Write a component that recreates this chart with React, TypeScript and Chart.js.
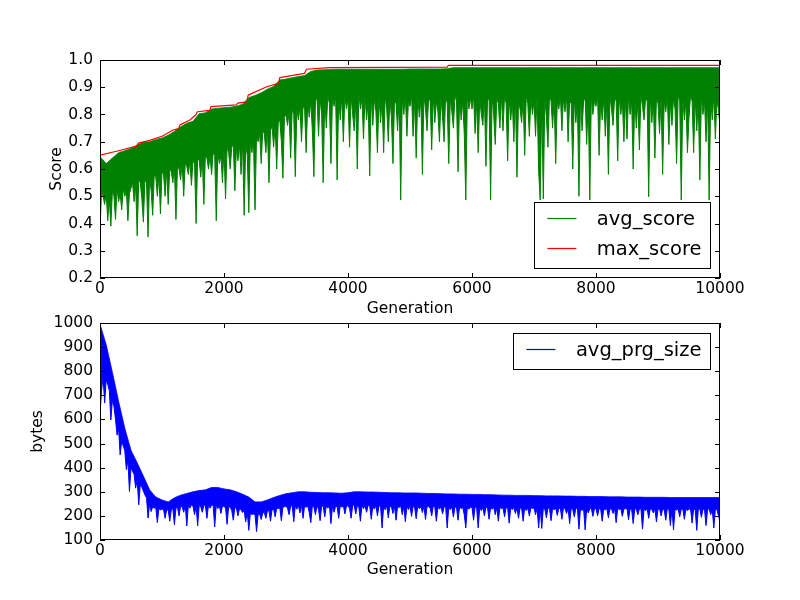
import React, { useEffect, useRef } from "react";
import { Chart, registerables } from "chart.js";

Chart.register(...registerables);

const FONT = "'DejaVu Sans', 'Liberation Sans', sans-serif";

// ---------------- data ----------------
// Each dense series is given as a band: the lowest value in each 25-generation bin (spiky lower edge)
// and the highest value in each 100-generation bin (upper edge).
const LO_STEP = 25;
const HI_STEP = 100;
const generationTicks = [0, 2000, 4000, 6000, 8000, 10000];
const scoreTicks = [0.2, 0.3, 0.4, 0.5, 0.6, 0.7, 0.8, 0.9, 1.0];
const bytesTicks = [100, 200, 300, 400, 500, 600, 700, 800, 900, 1000];

const avgScoreLow = [
  .38,.52,.50,.47,.51,.41,.49,.39,.52,.50,.415,.53,.48,.51,.45,.53,.50,.52,.41,.51,
  .53,.55,.48,.54,.355,.56,.55,.49,.405,.56,.55,.35,.57,.52,.43,.58,.57,.50,.58,.435,
  .59,.58,.50,.60,.47,.60,.59,.55,.61,.415,.61,.60,.56,.62,.50,.62,.61,.58,.63,.54,
  .63,.62,.40,.64,.63,.57,.64,.47,.65,.64,.60,.65,.58,.66,.65,.41,.66,.62,.65,.55,
  .67,.49,.68,.66,.60,.68,.69,.52,.68,.63,.69,.58,.70,.43,.69,.65,.44,.70,.66,.71,
  .45,.72,.70,.73,.62,.74,.73,.66,.75,.55,.74,.76,.68,.76,.60,.77,.78,.70,.566,.79,
  .80,.76,.81,.64,.82,.80,.572,.82,.78,.83,.70,.83,.82,.66,.84,.79,.85,.74,.572,.85,
  .86,.72,.86,.80,.55,.86,.75,.87,.84,.62,.87,.83,.87,.56,.86,.78,.87,.70,.87,.82,
  .86,.68,.87,.80,.74,.85,.60,.88,.82,.86,.71,.87,.78,.85,.575,.87,.76,.86,.81,.66,
  .87,.77,.85,.66,.87,.82,.70,.86,.79,.62,.85,.84,.74,.87,.486,.86,.80,.87,.72,.85,
  .83,.87,.72,.85,.64,.87,.79,.86,.58,.87,.82,.74,.86,.85,.67,.87,.77,.85,.81,.70,
  .86,.79,.70,.87,.84,.62,.86,.81,.75,.87,.85,.59,.86,.78,.85,.73,.486,.87,.82,.86,
  .82,.87,.73,.85,.66,.86,.80,.76,.87,.61,.85,.86,.486,.87,.80,.69,.86,.84,.75,.87,
  .74,.87,.84,.63,.86,.78,.85,.70,.87,.57,.85,.82,.77,.86,.65,.87,.84,.72,.86,.80,
  .85,.72,.87,.59,.486,.85,.49,.86,.79,.68,.87,.85,.75,.86,.62,.85,.82,.87,.74,.86,
  .81,.87,.70,.85,.84,.60,.86,.77,.85,.50,.87,.74,.85,.86,.69,.85,.486,.87,.80,.85,
  .83,.87,.65,.85,.78,.86,.72,.85,.58,.87,.82,.76,.86,.85,.63,.87,.80,.85,.70,.86,
  .71,.87,.80,.85,.60,.86,.75,.85,.67,.87,.83,.78,.86,.85,.498,.87,.77,.85,.64,.86,
  .84,.73,.86,.58,.85,.81,.87,.69,.85,.76,.86,.82,.62,.87,.85,.486,.86,.78,.85,.66,
  .79,.87,.85,.66,.86,.74,.85,.56,.87,.80,.85,.70,.86,.486,.85,.78,.87,.71,.85,.82,
  .75,
];

const avgScoreHigh = [
  .645,.62,.64,.66,.667,.675,.688,.698,.70,.708,
  .714,.724,.738,.755,.768,.775,.803,.806,.82,.823,
  .825,.827,.83,.838,.862,.87,.88,.893,.903,.927,
  .93,.935,.939,.943,.958,.963,.964,.965,.966,.966,
  .966,.966,.966,.966,.966,.966,.966,.966,.966,.966,
  .967,.967,.967,.967,.967,.967,.968,.972,.972,.972,
  .972,.972,.972,.972,.972,.972,.972,.972,.972,.972,
  .972,.972,.972,.972,.972,.972,.972,.972,.972,.972,
  .972,.972,.972,.972,.972,.972,.972,.972,.972,.972,
  .972,.972,.972,.972,.972,.972,.972,.972,.972,.972,
  .972,
];

const maxGen = [0, 300, 590, 620, 800, 1000, 1180, 1270, 1290, 1450, 1550, 1570, 1770, 1790, 2200, 2220, 2370, 2390, 2690, 2880, 2900, 3300, 3330, 3700, 5600, 5620, 10000];
const maxScore = [0.651, 0.667, 0.684, 0.695, 0.705, 0.72, 0.743, 0.748, 0.762, 0.78, 0.80, 0.81, 0.815, 0.829, 0.835, 0.842, 0.846, 0.871, 0.902, 0.914, 0.935, 0.951, 0.966, 0.972, 0.974, 0.98, 0.98];

const avgPrgSizeLow = [
  625,720,775,668,765,745,720,598,680,655,600,535,560,453,510,490,470,392,430,301,
  400,385,372,315,350,246,330,320,302,287,275,191,250,218,238,232,234,172,230,225,
  228,226,190,225,224,178,226,230,163,232,236,200,240,238,215,242,158,244,232,246,
  240,205,242,159,243,238,215,244,242,190,245,232,246,243,154,244,230,243,210,240,
  240,232,165,238,236,222,182,234,232,200,230,226,214,222,175,216,140,212,205,208,
  206,135,205,208,185,212,215,190,220,222,178,226,228,196,232,230,234,180,236,238,
  240,232,205,240,242,176,242,228,243,212,244,190,243,235,242,214,172,241,238,205,
  242,226,180,241,240,196,242,232,243,168,241,215,240,238,190,242,236,242,208,240,
  242,232,190,243,244,208,242,236,178,243,230,242,215,244,242,186,240,228,243,200,
  242,240,150,241,225,242,192,240,238,210,241,182,240,234,242,205,240,176,239,226,
  240,198,239,236,188,240,230,238,214,240,185,238,239,232,200,240,238,178,237,228,
  238,208,237,239,150,236,226,238,195,237,236,182,238,230,236,205,150,237,228,236,
  236,182,237,234,150,236,222,235,200,236,234,186,235,228,236,205,234,178,235,230,
  234,196,235,233,170,234,226,235,210,234,190,233,232,178,234,222,233,200,234,231,
  233,205,232,150,233,148,232,228,192,233,231,180,232,225,233,202,231,232,186,232,
  232,210,231,168,232,226,196,231,232,145,231,222,230,142,231,212,230,231,198,230,
  231,200,230,229,178,230,224,231,192,230,229,210,230,172,231,226,230,198,229,230,
  230,184,229,226,168,230,228,205,229,230,145,229,222,230,190,229,228,212,229,175,
  229,228,200,229,226,182,229,228,160,229,142,228,224,229,196,228,229,186,228,222,
  228,229,170,228,226,140,228,229,194,228,226,160,228,229,205,228,150,227,228,200,
  175,
];

const avgPrgSizeHigh = [
  995,910,795,675,563,472,420,365,308,278,
  266,258,275,286,293,300,305,308,318,318,
  312,308,300,290,278,258,258,266,276,285,
  292,296,300,300,298,297,296,296,295,294,
  296,300,300,299,299,298,297,296,296,295,
  295,295,294,293,293,292,291,291,290,290,
  289,289,288,288,287,286,286,285,285,285,
  284,284,283,283,283,282,282,281,281,280,
  280,280,279,279,279,278,278,278,277,277,
  277,277,276,276,276,276,276,276,276,276,
  276,
];

// ---------------- plugin: matplotlib-like frame, inward ticks, legend box ----------------
const framePlugin = {
  id: "mplFrame",
  afterDatasetsDraw(chart: any, _args: any, opts: any) {
    const { ctx, chartArea: a, scales } = chart;
    ctx.save();
    ctx.strokeStyle = "#000";
    ctx.lineWidth = 1;
    const tl = 5;
    ctx.beginPath();
    for (const t of scales.x.ticks) {
      const px = Math.round(scales.x.getPixelForValue(t.value)) + 0.5;
      ctx.moveTo(px, a.bottom);
      ctx.lineTo(px, a.bottom - tl);
      ctx.moveTo(px, a.top);
      ctx.lineTo(px, a.top + tl);
    }
    for (const t of scales.y.ticks) {
      const py = Math.round(scales.y.getPixelForValue(t.value)) + 0.5;
      ctx.moveTo(a.left, py);
      ctx.lineTo(a.left + tl, py);
      ctx.moveTo(a.right, py);
      ctx.lineTo(a.right - tl, py);
    }
    ctx.stroke();
    ctx.strokeRect(a.left + 0.5, a.top + 0.5, a.right - a.left - 1, a.bottom - a.top - 1);

    // legend
    const items = chart.data.datasets
      .filter((d: any) => !d.helper)
      .map((d: any) => ({ label: d.label, color: d.borderColor }));
    ctx.font = "19.5px " + FONT;
    const tw = Math.max(...items.map((i: any) => ctx.measureText(i.label).width));
    const w = 13.5 + 29 + 20.5 + tw + 8.5;
    const h = 15.6 + (items.length - 1) * 30 + 20;
    const right = a.right - 10;
    const left = right - w;
    const top = opts.corner === "lower" ? a.bottom - 10 - h : a.top + 10;
    ctx.fillStyle = "#fff";
    ctx.fillRect(left, top, w, h);
    ctx.strokeStyle = "#000";
    ctx.lineWidth = 1;
    ctx.strokeRect(Math.round(left) + 0.5, Math.round(top) + 0.5, Math.round(w), Math.round(h));
    items.forEach((it: any, k: number) => {
      const y = Math.round(top + 15.6 + k * 30) + 0.5;
      ctx.strokeStyle = it.color;
      ctx.lineWidth = 1.2;
      ctx.beginPath();
      ctx.moveTo(left + 13.5, y);
      ctx.lineTo(left + 42.5, y);
      ctx.stroke();
      ctx.fillStyle = "#000";
      ctx.textAlign = "left";
      ctx.textBaseline = "alphabetic";
      ctx.fillText(it.label, left + 63, y + 6.5);
    });
    ctx.restore();
  },
};

function makeConfig(opts: {
  datasets: any[];
  yMin: number;
  yMax: number;
  yTicks: number[];
  yFmt: (v: number) => string;
  yTitle: string;
  yTitlePad: number;
  padTop: number;
  padBottom: number;
  xHeight: number;
  xTitlePad: number;
  corner: string;
}) {
  const tickFont = { family: FONT, size: 15.5, lineHeight: 1.2 };
  return {
    type: "line",
    data: { datasets: opts.datasets },
    options: {
      responsive: false,
      animation: false,
      events: [],
      devicePixelRatio: 1,
      layout: { padding: { top: opts.padTop, right: 80, bottom: opts.padBottom, left: 0 } },
      plugins: {
        legend: { display: false },
        tooltip: { enabled: false },
        mplFrame: { corner: opts.corner },
      },
      elements: { point: { radius: 0 }, line: { tension: 0 } },
      scales: {
        x: {
          type: "linear",
          min: 0,
          max: 10000,
          grid: { display: false, drawTicks: false, tickLength: 0 },
          border: { display: false },
          afterBuildTicks: (s: any) => {
            s.ticks = generationTicks.map((v) => ({ value: v }));
          },
          afterFit: (s: any) => {
            s.height = opts.xHeight;
          },
          ticks: {
            color: "#000",
            font: tickFont,
            padding: 1.3,
            maxRotation: 0,
            autoSkip: false,
            callback: (v: any) => String(v),
          },
          title: {
            display: true,
            text: "Generation",
            color: "#000",
            font: tickFont,
            padding: { top: 0, bottom: opts.xTitlePad },
          },
        },
        y: {
          type: "linear",
          min: opts.yMin,
          max: opts.yMax,
          grid: { display: false, drawTicks: false, tickLength: 0 },
          border: { display: false },
          afterBuildTicks: (s: any) => {
            s.ticks = opts.yTicks.map((v) => ({ value: v }));
          },
          afterFit: (s: any) => {
            s.width = 100;
          },
          ticks: {
            color: "#000",
            font: tickFont,
            padding: 7,
            autoSkip: false,
            callback: (v: any) => opts.yFmt(Number(v)),
          },
          title: {
            display: true,
            text: opts.yTitle,
            color: "#000",
            font: tickFont,
            padding: { top: opts.yTitlePad, bottom: 0 },
          },
        },
      },
    },
    plugins: [framePlugin],
  } as any;
}

function bandDatasets(label: string, color: string, low: number[], high: number[], order: number) {
  return [
    {
      label,
      data: low.map((y, i) => ({ x: i * LO_STEP, y })),
      borderColor: color,
      backgroundColor: color,
      borderWidth: 1,
      borderJoinStyle: "round",
      pointRadius: 0,
      fill: "+1",
      order,
    },
    {
      label: label + "_high",
      helper: true,
      data: high.map((y, i) => ({ x: i * HI_STEP, y })),
      borderColor: color,
      backgroundColor: color,
      borderWidth: 0.8,
      pointRadius: 0,
      fill: false,
      order: order + 1,
    },
  ];
}

export default function App() {
  const topRef = useRef<HTMLCanvasElement>(null);
  const botRef = useRef<HTMLCanvasElement>(null);

  useEffect(() => {
    const top = new Chart(
      topRef.current!,
      makeConfig({
        datasets: [
          ...bandDatasets("avg_score", "#008000", avgScoreLow, avgScoreHigh, 2),
          {
            label: "max_score",
            data: maxGen.map((x, i) => ({ x, y: maxScore[i] })),
            borderColor: "#ff0000",
            borderWidth: 1.2,
            borderJoinStyle: "round",
            pointRadius: 0,
            fill: false,
            order: 1,
          },
        ],
        yMin: 0.2,
        yMax: 1.0,
        yTicks: scoreTicks,
        yFmt: (v) => v.toFixed(1),
        yTitle: "Score",
        yTitlePad: 48,
        padTop: 60,
        padBottom: 282,
        xHeight: 40,
        xTitlePad: 0,
        corner: "lower",
      })
    );
    const bot = new Chart(
      botRef.current!,
      makeConfig({
        datasets: [...bandDatasets("avg_prg_size", "#0000ff", avgPrgSizeLow, avgPrgSizeHigh, 2)],
        yMin: 100,
        yMax: 1000,
        yTicks: bytesTicks,
        yFmt: (v) => String(Math.round(v)),
        yTitle: "bytes",
        yTitlePad: 29,
        padTop: 323,
        padBottom: 0,
        xHeight: 60,
        xTitlePad: 21,
        corner: "upper",
      })
    );
    return () => {
      top.destroy();
      bot.destroy();
    };
  }, []);

  return (
    <div
      style={{
        position: "fixed",
        left: 0,
        top: 0,
        width: 800,
        height: 600,
        background: "#fff",
        overflow: "hidden",
      }}
    >
      <canvas ref={topRef} width={800} height={600} style={{ position: "absolute", left: 0, top: 0 }} />
      <canvas ref={botRef} width={800} height={600} style={{ position: "absolute", left: 0, top: 0 }} />
    </div>
  );
}
